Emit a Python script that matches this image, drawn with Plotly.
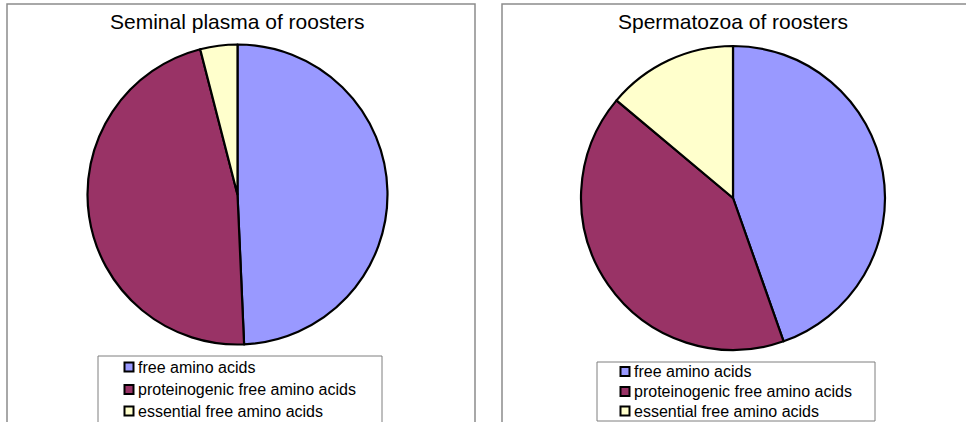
import plotly.graph_objects as go

W, H = 966, 422

labels = ["free amino acids", "proteinogenic free amino acids", "essential free amino acids"]
plasma_values = [49.3, 46.7, 4.0]
sperm_values = [44.6, 41.5, 13.9]
titles = ["Seminal plasma of roosters", "Spermatozoa of roosters"]
colors = ["#9999FF", "#993366", "#FFFFCC"]

FONT = "Arial, Liberation Sans, sans-serif"


def px(x):
    return x / W


def py(y):
    return 1 - y / H


fig = go.Figure()

panels = [
    dict(values=plasma_values, cx=237.5, cy=194.5, r=150, title_x=237, title_y=21,
         box=(7, 4, 475, 440), leg=(98, 356, 382, 440), sq_x=124.5, txt_x=135.5,
         rows=[367, 389.5, 411]),
    dict(values=sperm_values, cx=733, cy=198, r=152, title_x=733, title_y=22,
         box=(502, 4, 980, 440), leg=(597, 362, 875, 421), sq_x=620.5, txt_x=631.5,
         rows=[371.5, 391.5, 411]),
]

shapes = []
annotations = []
for i, p in enumerate(panels):
    fig.add_trace(go.Pie(
        labels=labels, values=p["values"], sort=False, direction="clockwise",
        rotation=0, textinfo="none", showlegend=False,
        marker=dict(colors=colors, line=dict(color="black", width=2.2)),
        domain=dict(x=[px(p["cx"] - p["r"]), px(p["cx"] + p["r"])],
                    y=[py(p["cy"] + p["r"]), py(p["cy"] - p["r"])]),
    ))
    x0, y0, x1, y1 = p["box"]
    shapes.append(dict(type="rect", xref="paper", yref="paper",
                       x0=px(x0), x1=px(x1), y0=py(y1), y1=py(y0),
                       line=dict(color="#8c8c8c", width=1.5), fillcolor="rgba(0,0,0,0)"))
    lx0, ly0, lx1, ly1 = p["leg"]
    shapes.append(dict(type="rect", xref="paper", yref="paper",
                       x0=px(lx0), x1=px(lx1), y0=py(ly1), y1=py(ly0),
                       line=dict(color="#7f7f7f", width=1), fillcolor="rgba(0,0,0,0)"))
    annotations.append(dict(text=titles[i], x=px(p["title_x"]), y=py(p["title_y"]),
                            xref="paper", yref="paper", showarrow=False,
                            xanchor="center", yanchor="middle",
                            font=dict(family=FONT, size=21, color="black")))
    for j, lab in enumerate(labels):
        ry = p["rows"][j]
        shapes.append(dict(type="rect", xref="paper", yref="paper",
                           x0=px(p["sq_x"]), x1=px(p["sq_x"] + 9),
                           y0=py(ry + 4.5), y1=py(ry - 4.5),
                           line=dict(color="black", width=2), fillcolor=colors[j]))
        annotations.append(dict(text=lab, x=px(p["txt_x"]), y=py(ry),
                                xref="paper", yref="paper", showarrow=False,
                                xanchor="left", yanchor="middle",
                                font=dict(family=FONT, size=16, color="black")))

fig.update_layout(
    width=W, height=H,
    margin=dict(l=0, r=0, t=0, b=0),
    paper_bgcolor="white", plot_bgcolor="white",
    shapes=shapes, annotations=annotations,
    showlegend=False,
)

fig.write_html("out.html", config={"displayModeBar": False},
               post_script="document.body.style.margin='0';document.body.style.overflow='hidden';")
